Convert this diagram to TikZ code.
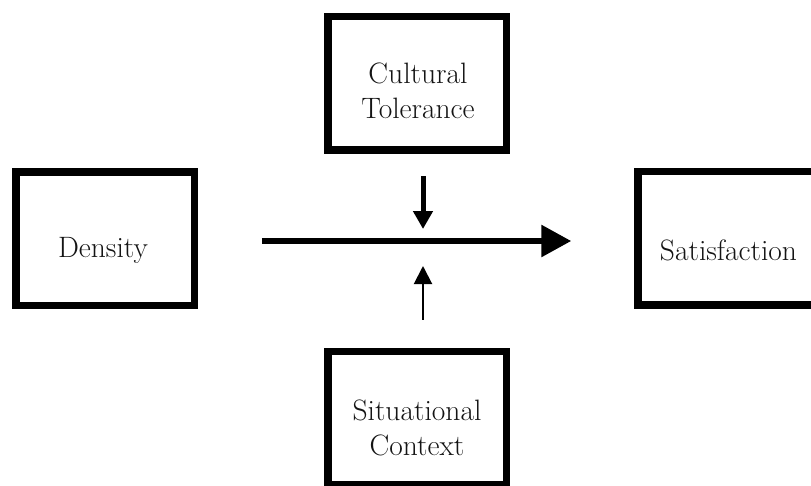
\documentclass[tikz,border=0pt]{standalone}
\usetikzlibrary{arrows.meta}
\begin{document}
\begin{tikzpicture}[x=1pt,y=-1pt,
  block/.style={draw, line width=7.5pt, minimum width=178.5pt, minimum height=133.5pt,
    inner sep=0pt, outer sep=0pt},
  boxtext/.style={font=\fontsize{29.5}{35}\selectfont, align=center, inner sep=0pt,
    text=black!92},
  mainarrow/.style={line width=6pt, -{Triangle[length=30pt,width=31pt]}},
  downarrow/.style={line width=5pt, -{Triangle[length=18pt,width=19pt]}},
  uparrow/.style={line width=2pt, -{Triangle[length=18pt,width=18pt]}}]
\useasboundingbox (0,0) rectangle (811,485);
\clip (0,0) rectangle (811,485);

% frames
\node[block] (cultural)    at (417,83)    {};
\node[block] (density)     at (105,238.5) {};
\node[block] (satisfaction) at (727,238)  {};
\node[block] (situational) at (417,418)   {};

% captions inside the frames
\node[boxtext] (tcultural) at (418,91) {Cultural\\Tolerance};
\node[boxtext, anchor=base] (tdensity) at (103,257) {Density};
\node[boxtext, anchor=base] (tsatisfaction) at (728.5,260) {Satisfaction};
\node[boxtext] (tsituational) at (417,428) {Situational\\Context};

% meeting point of the moderators on the main path
\coordinate (mid) at (423,241);

% main effect
\draw[mainarrow, shorten <=67.5pt, shorten >=66.5pt]
  (density.east |- mid) -- (satisfaction.west |- mid);

% moderators
\draw[downarrow, shorten <=26.5pt, shorten >=12pt] (mid |- cultural.south) -- (mid);
\draw[uparrow, shorten <=31.5pt, shorten >=25pt] (mid |- situational.north) -- (mid);
\end{tikzpicture}
\end{document}
